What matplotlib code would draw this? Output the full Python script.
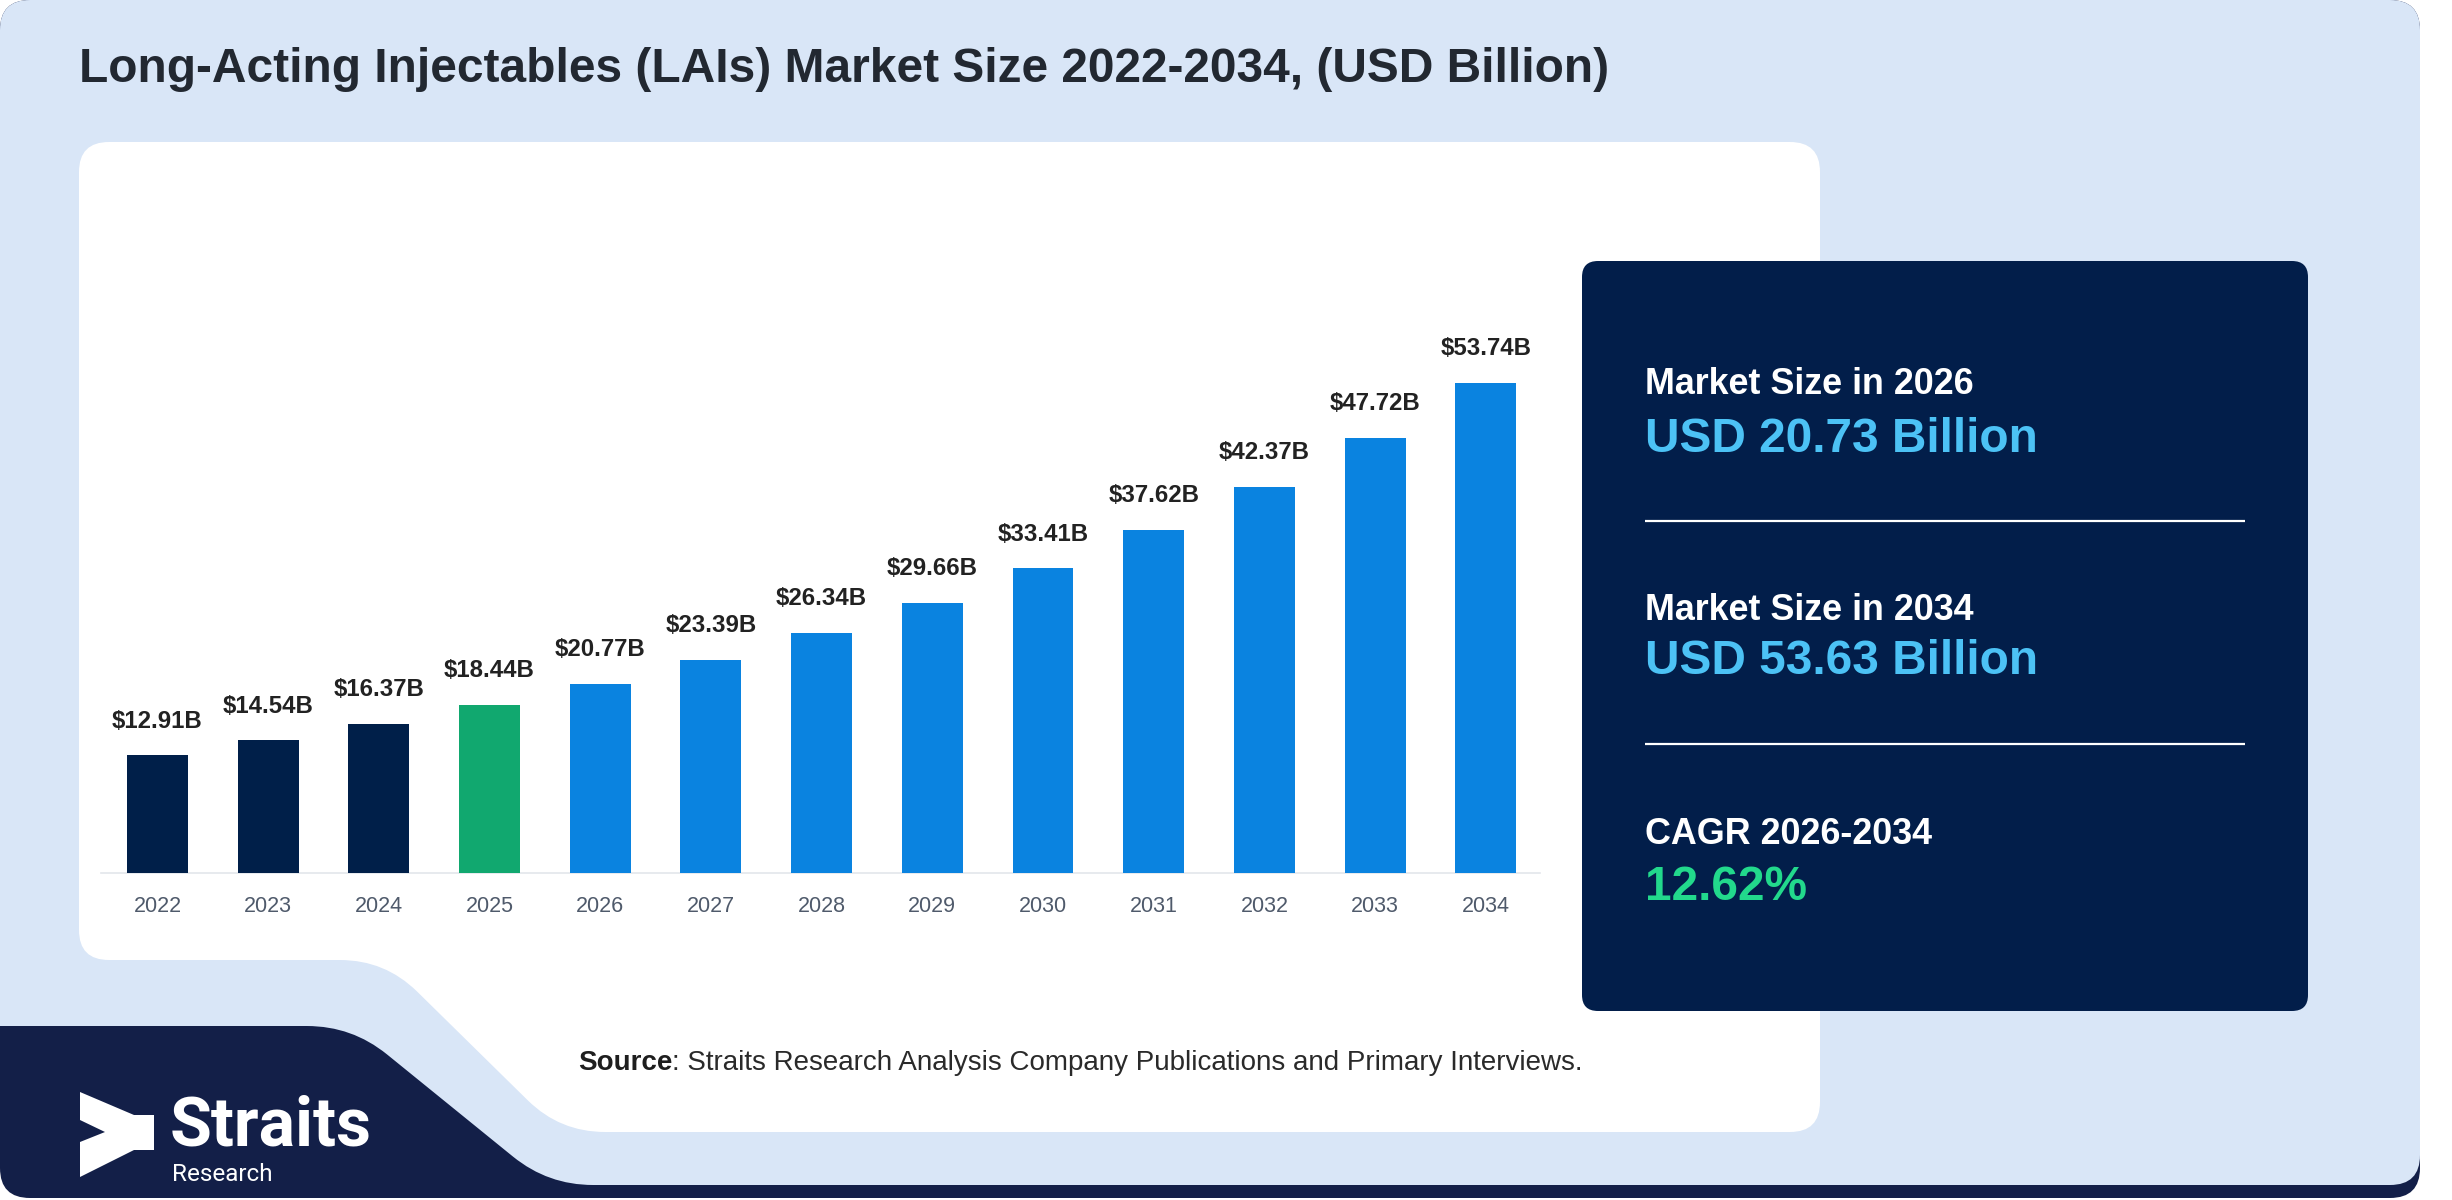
import matplotlib
matplotlib.use("Agg")
import matplotlib.pyplot as plt
import numpy as np
from matplotlib.path import Path
from matplotlib.patches import PathPatch, Polygon

plt.rcParams["font.family"] = ["Liberation Sans", "DejaVu Sans"]

# data
years = ["2022", "2023", "2024", "2025", "2026", "2027", "2028",
         "2029", "2030", "2031", "2032", "2033", "2034"]
market_size = [12.91, 14.54, 16.37, 18.44, 20.77, 23.39, 26.34,
               29.66, 33.41, 37.62, 42.37, 47.72, 53.74]
base_year = "2025"

panel_labels = ["Market Size in 2026", "Market Size in 2034", "CAGR 2026-2034"]
panel_values = ["USD 20.73 Billion", "USD 53.63 Billion", "12.62%"]

title = "Long-Acting Injectables (LAIs) Market Size 2022-2034, (USD Billion)"
source_rest = ": Straits Research Analysis Company Publications and Primary Interviews."

# colours
BG = "#d9e6f7"
NAVY_LOGO = "#131f48"
PANEL = "#021e4a"
HIST = "#001f49"
BASE = "#11a86f"
FCST = "#0a83e0"
SKY = "#4cc2f5"
MINT = "#22d98c"

W, H = 2452, 1200


def rounded_path(pts, radii):
    n = len(pts)
    verts, codes = [], []
    for i in range(n):
        p = np.array(pts[i], float)
        a = np.array(pts[i - 1], float)
        b = np.array(pts[(i + 1) % n], float)
        r = radii[i]
        if r == 0:
            verts.append(p)
            codes.append(Path.LINETO)
            continue
        p1 = p + r * (a - p) / np.linalg.norm(a - p)
        p2 = p + r * (b - p) / np.linalg.norm(b - p)
        verts += [p1, p, p2]
        codes += [Path.LINETO, Path.CURVE3, Path.CURVE3]
    codes[0] = Path.MOVETO
    verts.append(verts[0])
    codes.append(Path.CLOSEPOLY)
    return Path(verts, codes)


fig = plt.figure(figsize=(W / 100, H / 100), dpi=100, facecolor="white")
bg = fig.add_axes([0, 0, 1, 1])
bg.set_xlim(0, W)
bg.set_ylim(H, 0)
bg.axis("off")

# background layers
bg.add_patch(PathPatch(rounded_path([(0, 0), (2420, 0), (2420, 1198), (0, 1198)],
                                    [30, 30, 30, 30]), fc=NAVY_LOGO, ec="none"))
bg.add_patch(PathPatch(rounded_path([(0, 0), (2420, 0), (2420, 1185), (548, 1185),
                                     (352, 1026), (0, 1026)],
                                    [30, 30, 30, 45, 45, 0]), fc=BG, ec="none"))
# white chart card
bg.add_patch(PathPatch(rounded_path([(79, 142), (1820, 142), (1820, 1132), (560, 1132),
                                     (385, 960), (79, 960)],
                                    [30, 30, 30, 45, 45, 30]), fc="white", ec="none"))
# dark info panel
bg.add_patch(PathPatch(rounded_path([(1582, 261), (2308, 261), (2308, 1011), (1582, 1011)],
                                    [16, 16, 16, 16]), fc=PANEL, ec="none"))

# title
bg.text(79, 82, title, fontsize=34.5, fontweight="bold", color="#222831",
        ha="left", va="baseline")

# info panel text
tx = 1645
label_y = [385, 610, 834]
value_y = [439, 662, 887]
value_colors = [SKY, SKY, MINT]
for lab, val, ly, vy, vc in zip(panel_labels, panel_values, label_y, value_y, value_colors):
    bg.text(tx, ly, lab, fontsize=25.8, fontweight="bold", color="white",
            ha="left", va="center")
    bg.text(tx, vy, val, fontsize=34.4, fontweight="bold", color=vc,
            ha="left", va="center")
for ly in [521, 744]:
    bg.plot([1645, 2245], [ly, ly], color="white", lw=1.6, solid_capstyle="butt")

# source line
t1 = bg.text(578, 1063, "Source", fontsize=20, fontweight="bold", color="#1e1e1e",
             ha="left", va="center")
bg.annotate(source_rest, xy=(1, 0), xycoords=t1, fontsize=20, color="#2a2a2a",
            ha="left", va="bottom")

# logo
arrow = [(80, 1092), (134, 1115), (154, 1115), (154, 1150), (134, 1150),
         (80, 1177), (80, 1142), (105, 1132), (80, 1120)]
bg.add_patch(Polygon(arrow, closed=True, fc="white", ec="none"))
bg.text(170, 1145, "Straits", fontsize=49, fontweight="bold", color="white",
        family=["Roboto", "DejaVu Sans"], ha="left", va="baseline")
bg.text(172, 1181, "Research", fontsize=17.5, color="white",
        family=["Roboto", "DejaVu Sans"], ha="left", va="baseline")

# bar chart
px_per_unit = 9.118
ax_left, ax_right, ax_base, ax_top = 101, 1540, 873, 300
ax = fig.add_axes([ax_left / W, 1 - ax_base / H, (ax_right - ax_left) / W,
                   (ax_base - ax_top) / H])
ax.patch.set_alpha(0)
x = np.arange(len(years))
colors = []
for yr in years:
    if int(yr) < int(base_year):
        colors.append(HIST)
    elif yr == base_year:
        colors.append(BASE)
    else:
        colors.append(FCST)
ax.bar(x, market_size, width=0.55, color=colors, zorder=3)
ax.set_xlim(-0.51, 12.49)
ax.set_ylim(0, (ax_base - ax_top) / px_per_unit)
for xi, v in zip(x, market_size):
    ax.annotate(f"${v:.2f}B", (xi, v), xytext=(0, 24.5), textcoords="offset points",
                ha="center", va="center", fontsize=17.3, fontweight="bold", color="#222222")
ax.set_xticks(x)
ax.set_xticklabels(years, fontsize=15.5, color="#4f5a6b")
ax.tick_params(axis="x", length=0, pad=16.5)
ax.set_yticks([])
for side in ["top", "left", "right"]:
    ax.spines[side].set_visible(False)
ax.spines["bottom"].set_color("#e3e6eb")
ax.spines["bottom"].set_linewidth(1.2)

fig.savefig("out.png", dpi=100, facecolor="white")
